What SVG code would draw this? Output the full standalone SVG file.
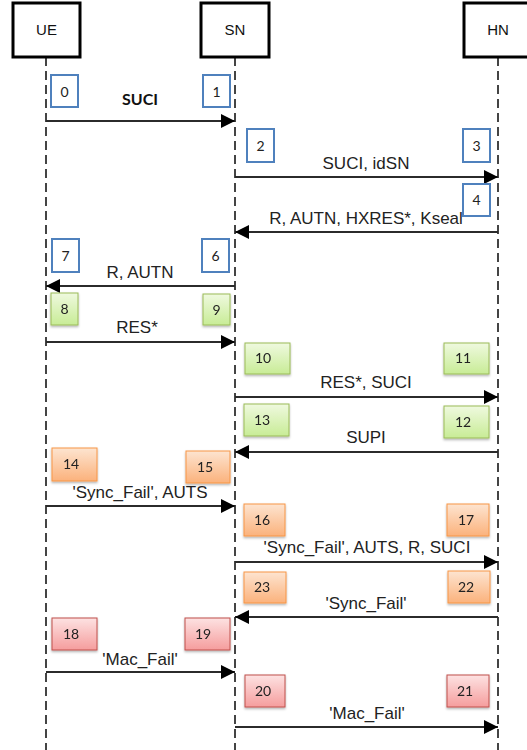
<svg xmlns="http://www.w3.org/2000/svg" width="527" height="750" viewBox="0 0 527 750">
<style>
.hdr{fill:#fff;stroke:#000;stroke-width:3}
.hdrt{font-family:"Liberation Sans",Arial,sans-serif;font-size:15px;fill:#111;text-anchor:middle}
.life{stroke:#444;stroke-width:2;stroke-dasharray:9 5;fill:none}
.blue{fill:#fff;stroke:#4f81bd;stroke-width:2}
.green{fill:url(#gG);stroke:#9bbb59;stroke-width:1}
.orange{fill:url(#gO);stroke:#f79646;stroke-width:1}
.red{fill:url(#gR);stroke:#c0504d;stroke-width:1}
.num{font-family:Lato,"Liberation Sans",sans-serif;font-size:14px;fill:#222}
.numc{font-family:Lato,"Liberation Sans",sans-serif;font-size:14px;fill:#222;text-anchor:middle}
.msg{stroke:#2b2b2b;stroke-width:2;fill:none;marker-end:url(#ah)}
.lbl{font-family:"Liberation Sans",Arial,sans-serif;font-size:17px;fill:#222;text-anchor:middle}
.bold{font-family:Lato,"Liberation Sans",sans-serif;font-size:16px;font-weight:bold;fill:#111;text-anchor:middle}
.sh{filter:url(#shadow)}
</style>
<defs>
<marker id="ah" markerUnits="userSpaceOnUse" markerWidth="16" markerHeight="14" refX="14" refY="7" orient="auto">
<path d="M0,0 L14,7 L0,14 Z" fill="#000"/>
</marker>
<linearGradient id="gG" x1="0" y1="0" x2="0" y2="1"><stop offset="0" stop-color="#eff9df"/><stop offset="1" stop-color="#c8ec96"/></linearGradient>
<linearGradient id="gO" x1="0" y1="0" x2="0" y2="1"><stop offset="0" stop-color="#fde4d0"/><stop offset="1" stop-color="#fbb27c"/></linearGradient>
<linearGradient id="gR" x1="0" y1="0" x2="0" y2="1"><stop offset="0" stop-color="#fde2e2"/><stop offset="1" stop-color="#f59d9d"/></linearGradient>
<filter id="shadow" x="-20%" y="-20%" width="140%" height="150%"><feDropShadow dx="0" dy="1.5" stdDeviation="1" flood-color="#000" flood-opacity="0.3"/></filter>
</defs>

<g id="lifelines">
<line class="life" x1="46" y1="57" x2="46" y2="750"/>
<line class="life" x1="235" y1="57" x2="235" y2="750"/>
<line class="life" x1="498" y1="57" x2="498" y2="750"/>
</g>

<g id="UE"><rect class="hdr" x="13" y="3" width="67" height="54"/><text class="hdrt" x="46.5" y="35">UE</text></g>
<g id="SN"><rect class="hdr" x="201" y="3" width="68" height="54"/><text class="hdrt" x="235" y="35">SN</text></g>
<g id="HN"><rect class="hdr" x="464" y="3" width="68" height="54"/><text class="hdrt" x="498" y="35">HN</text></g>

<g id="connectors">
<line class="msg" x1="46" y1="121" x2="235" y2="121"/>
<text class="bold" x="140" y="105">SUCI</text>
<line class="msg" x1="235" y1="177" x2="498" y2="177"/>
<text class="lbl" x="366" y="169">SUCI, idSN</text>
<line class="msg" x1="498" y1="232" x2="235" y2="232"/>
<text class="lbl" x="366" y="224">R, AUTN, HXRES*, Kseal</text>
<line class="msg" x1="235" y1="286" x2="46" y2="286"/>
<text class="lbl" x="140" y="278">R, AUTN</text>
<line class="msg" x1="46" y1="342" x2="235" y2="342"/>
<text class="lbl" x="137" y="333">RES*</text>
<line class="msg" x1="235" y1="397" x2="498" y2="397"/>
<text class="lbl" x="366" y="388">RES*, SUCI</text>
<line class="msg" x1="498" y1="452" x2="235" y2="452"/>
<text class="lbl" x="366" y="443">SUPI</text>
<line class="msg" x1="46" y1="506" x2="235" y2="506"/>
<text class="lbl" x="140" y="498">'Sync_Fail', AUTS</text>
<line class="msg" x1="235" y1="562" x2="498" y2="562"/>
<text class="lbl" x="367" y="553">'Sync_Fail', AUTS, R, SUCI</text>
<line class="msg" x1="498" y1="617" x2="235" y2="617"/>
<text class="lbl" x="366" y="609">'Sync_Fail'</text>
<line class="msg" x1="46" y1="672" x2="235" y2="672"/>
<text class="lbl" x="140" y="665">'Mac_Fail'</text>
<line class="msg" x1="235" y1="727" x2="498" y2="727"/>
<text class="lbl" x="367" y="719">'Mac_Fail'</text>
</g>

<g id="step0"><rect class="blue" x="51" y="75" width="27" height="32"/><text class="numc" x="64.5" y="97">0</text></g>
<g id="step1"><rect class="blue" x="203" y="75" width="27" height="32"/><text class="numc" x="216.5" y="97">1</text></g>
<g id="step2"><rect class="blue" x="247" y="129" width="27" height="33"/><text class="numc" x="260.5" y="151">2</text></g>
<g id="step3"><rect class="blue" x="463" y="129" width="27" height="33"/><text class="numc" x="476.5" y="151">3</text></g>
<g id="step4"><rect class="blue" x="463" y="184" width="27" height="32"/><text class="numc" x="476.5" y="205">4</text></g>
<g id="step7"><rect class="blue" x="52" y="239" width="27" height="33"/><text class="numc" x="65.5" y="261">7</text></g>
<g id="step6"><rect class="blue" x="202" y="239" width="27" height="33"/><text class="numc" x="215.5" y="261">6</text></g>

<g id="step8" class="sh"><rect class="green" x="51" y="293" width="27" height="32"/><text class="numc" x="64.5" y="314">8</text></g>
<g id="step9" class="sh"><rect class="green" x="203" y="294" width="27" height="31"/><text class="numc" x="216.5" y="315">9</text></g>
<g id="step10" class="sh"><rect class="green" x="245" y="343" width="45" height="31"/><text class="num" x="255" y="363">10</text></g>
<g id="step11" class="sh"><rect class="green" x="444" y="343" width="45" height="31"/><text class="num" x="455" y="363">11</text></g>
<g id="step13" class="sh"><rect class="green" x="244" y="404" width="45" height="32"/><text class="num" x="254" y="425">13</text></g>
<g id="step12" class="sh"><rect class="green" x="444" y="406" width="45" height="32"/><text class="num" x="455" y="427">12</text></g>

<g id="step14" class="sh"><rect class="orange" x="52" y="448" width="45" height="33"/><text class="num" x="63" y="469">14</text></g>
<g id="step15" class="sh"><rect class="orange" x="186" y="451" width="44" height="32"/><text class="num" x="197" y="472">15</text></g>
<g id="step16" class="sh"><rect class="orange" x="244" y="504" width="41" height="32"/><text class="num" x="254" y="525">16</text></g>
<g id="step17" class="sh"><rect class="orange" x="447" y="504" width="42" height="32"/><text class="num" x="458" y="525">17</text></g>
<g id="step23" class="sh"><rect class="orange" x="244" y="572" width="42" height="31"/><text class="num" x="254" y="592">23</text></g>
<g id="step22" class="sh"><rect class="orange" x="448" y="571" width="42" height="32"/><text class="num" x="458" y="592">22</text></g>

<g id="step18" class="sh"><rect class="red" x="52" y="618" width="45" height="32"/><text class="num" x="63" y="639">18</text></g>
<g id="step19" class="sh"><rect class="red" x="185" y="618" width="45" height="32"/><text class="num" x="195" y="639">19</text></g>
<g id="step20" class="sh"><rect class="red" x="245" y="675" width="40" height="32"/><text class="num" x="255" y="696">20</text></g>
<g id="step21" class="sh"><rect class="red" x="447" y="675" width="42" height="32"/><text class="num" x="457" y="696">21</text></g>
</svg>
